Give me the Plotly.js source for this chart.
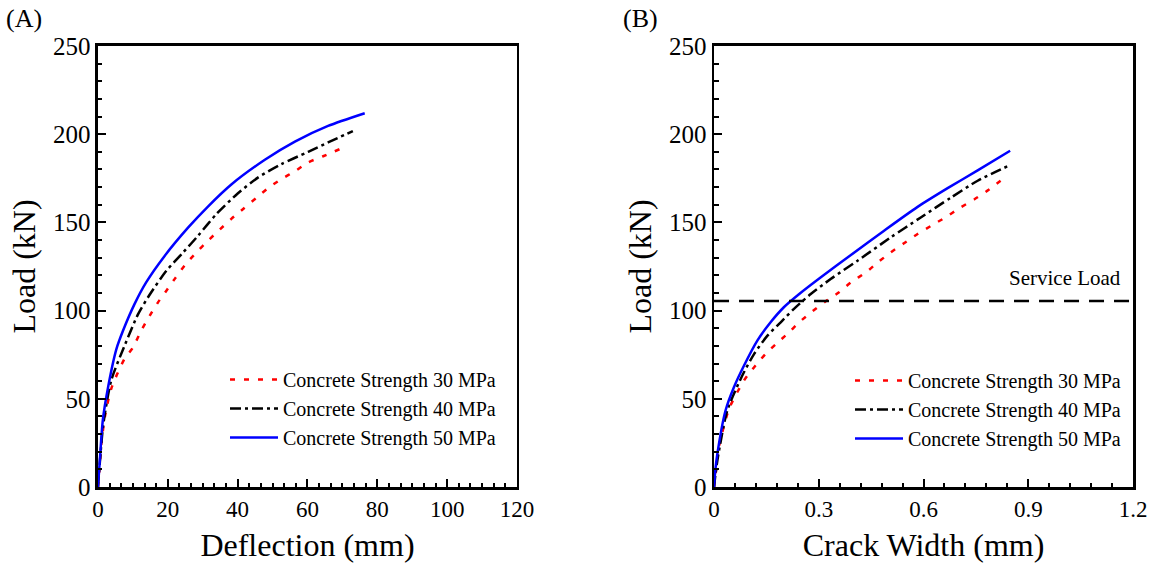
<!DOCTYPE html>
<html>
<head>
<meta charset="utf-8">
<script src="https://cdn.plot.ly/plotly-3.0.1.min.js"></script>
<style>html,body{margin:0;padding:0;background:#fff;}#chart{width:1155px;height:565px;}</style>
</head>
<body>
<div id="chart"></div>
<script>
// ---- Data: panel (A) load vs deflection ----
const seriesNames = ["Concrete Strength 30 MPa", "Concrete Strength 40 MPa", "Concrete Strength 50 MPa"];

const defl30 = [0, 0.5, 1, 2, 3.8, 7.6, 10, 12.4, 14.8, 17.2, 19.6, 22, 24.8, 28.2, 31.5, 34.9, 38.2, 41.5, 45.4, 48.7, 52.5, 56.4, 60.2, 64.5, 69.2];
const load30 = [0, 12, 25, 40, 55.7, 72.6, 79, 88.7, 97, 104.7, 111.3, 118, 125.5, 133, 139.6, 146, 152, 157.5, 164, 169.4, 174.5, 179, 184, 187.5, 191.5];

const defl40 = [0, 0.5, 1.5, 3.8, 7.6, 11.5, 14.8, 19.6, 24.4, 28.7, 33.9, 40.1, 45.8, 52.5, 60.2, 65.9, 73.0];
const load40 = [0, 13, 35, 60.4, 80, 98, 109, 122.6, 133, 142.5, 154.7, 166.5, 175.4, 183, 190, 195.3, 201.8];

const defl50 = [0, 0.5, 1.4, 2.9, 5.3, 7.2, 10.5, 13.8, 19.1, 25.8, 31.5, 38.2, 47.8, 56.4, 65.9, 76.4];
const load50 = [0, 14, 38, 56.6, 78.3, 88.7, 103.8, 116, 131, 147, 159, 171.5, 185.5, 195.8, 204.7, 211.9];

// ---- Data: panel (B) load vs crack width ----
const cw30 = [0, 0.005, 0.014, 0.043, 0.086, 0.119, 0.148, 0.177, 0.21, 0.244, 0.282, 0.32, 0.358, 0.392, 0.435, 0.47, 0.506, 0.544, 0.583, 0.621, 0.664, 0.702, 0.745, 0.783, 0.83];
const cl30 = [0, 8, 22.6, 44.3, 60.4, 68.9, 75.5, 81, 86.8, 93.4, 99.6, 105.3, 110.4, 116, 121.7, 127.5, 133, 138.2, 143.4, 148, 153, 158, 163, 168, 175];

const cw40 = [0, 0.004, 0.012, 0.038, 0.081, 0.115, 0.153, 0.191, 0.229, 0.277, 0.334, 0.411, 0.506, 0.592, 0.678, 0.755, 0.848];
const cl40 = [0, 7, 18, 43.4, 63.2, 75.5, 85.8, 93.4, 101, 109.4, 117.9, 128.3, 141.5, 152.8, 164, 173.6, 182.5];

const cw50 = [0, 0.003, 0.0096, 0.033, 0.057, 0.086, 0.124, 0.162, 0.2, 0.244, 0.306, 0.392, 0.487, 0.583, 0.669, 0.755, 0.848];
const cl50 = [0, 8, 18.9, 43.4, 56.6, 68.9, 83, 93.4, 101.9, 109.4, 118.9, 131.5, 145.3, 158.8, 169.4, 179.5, 190.6];

const serviceX = [0, 1.2];
const serviceY = [105.5, 105.5];
const serviceLabel = "Service Load";

const xTicksA = [0, 20, 40, 60, 80, 100, 120];
const xTicksB = [0, 0.3, 0.6, 0.9, 1.2];
const xTickTextB = ["0", "0.3", "0.6", "0.9", "1.2"];
const yTicks = [0, 50, 100, 150, 200, 250];

// ---- Styles ----
const FONT = "Liberation Serif, Times New Roman, serif";
const styles = [
  {color: "#ff0000", width: 2.5, dash: "5px,9px", shape: "spline", smoothing: 0.7},
  {color: "#000000", width: 2.5, dash: "11px,4px,3px,4px", shape: "spline", smoothing: 0.7},
  {color: "#0000ff", width: 2.5, dash: "solid", shape: "spline", smoothing: 0.7}
];

const traces = [];
[[defl30, load30], [defl40, load40], [defl50, load50]].forEach((d, i) => {
  traces.push({x: d[0], y: d[1], type: "scatter", mode: "lines", name: seriesNames[i],
    line: styles[i], xaxis: "x", yaxis: "y", legend: "legend"});
});
[[cw30, cl30], [cw40, cl40], [cw50, cl50]].forEach((d, i) => {
  traces.push({x: d[0], y: d[1], type: "scatter", mode: "lines", name: seriesNames[i],
    line: styles[i], xaxis: "x2", yaxis: "y2", legend: "legend2"});
});
traces.push({x: serviceX, y: serviceY, type: "scatter", mode: "lines", showlegend: false,
  line: {color: "#000", width: 2.5, dash: "15px,10px"}, xaxis: "x2", yaxis: "y2", hoverinfo: "skip"});

function xAxis(domain, range, tickvals, ticktext, minorDtick, title, anchor) {
  return {
    domain: domain, range: range, tickmode: "array", tickvals: tickvals, ticktext: ticktext,
    ticks: "inside", ticklen: 8, tickwidth: 2, tickcolor: "#000",
    showline: true, linewidth: 2.5, linecolor: "#000", mirror: true,
    showgrid: false, zeroline: false, anchor: anchor,
    minor: {tick0: 0, dtick: minorDtick, ticks: "inside", ticklen: 4.5, tickwidth: 2, tickcolor: "#000", showgrid: false},
    tickfont: {family: FONT, size: 23, color: "#000"},
    title: {text: title, font: {family: FONT, size: 32, color: "#000"}, standoff: 13},
    automargin: false, fixedrange: true
  };
}
function yAxis(anchor) {
  return {
    domain: [0.138, 0.9186], range: [0, 250], tickmode: "array", tickvals: yTicks,
    ticks: "inside", ticklen: 8, tickwidth: 2, tickcolor: "#000",
    showline: true, linewidth: 2.5, linecolor: "#000", mirror: true,
    showgrid: false, zeroline: false, anchor: anchor,
    minor: {tick0: 0, dtick: 10, ticks: "inside", ticklen: 4.5, tickwidth: 2, tickcolor: "#000", showgrid: false},
    tickfont: {family: FONT, size: 25, color: "#000"},
    title: {text: "Load (kN)", font: {family: FONT, size: 32, color: "#000"}, standoff: 8},
    automargin: false, fixedrange: true
  };
}

const legendBase = {
  xanchor: "left", yanchor: "top", bgcolor: "rgba(0,0,0,0)", borderwidth: 0,
  font: {family: FONT, size: 20, color: "#000"}, itemwidth: 48, traceorder: "normal", tracegroupgap: 0
};

const layout = {
  width: 1155, height: 565,
  margin: {l: 0, r: 0, t: 0, b: 0},
  paper_bgcolor: "#fff", plot_bgcolor: "#fff",
  showlegend: true,
  font: {family: FONT, color: "#000"},
  xaxis: xAxis([0.0848, 0.4476], [0, 120], xTicksA, xTicksA.map(String), 20 / 6, "Deflection (mm)", "y"),
  yaxis: yAxis("x"),
  xaxis2: xAxis([0.6182, 0.981], [0, 1.2], xTicksB, xTickTextB, 0.06, "Crack Width (mm)", "y2"),
  yaxis2: yAxis("x2"),
  legend: Object.assign({x: 225 / 1155, y: (565 - 360) / 565}, legendBase),
  legend2: Object.assign({x: 850 / 1155, y: (565 - 361) / 565}, legendBase),
  annotations: [
    {text: "(A)", xref: "paper", yref: "paper", x: 4 / 1155, y: 1 - 18 / 565, xanchor: "left", yanchor: "middle",
     showarrow: false, font: {family: FONT, size: 26, color: "#000"}},
    {text: "(B)", xref: "paper", yref: "paper", x: 621 / 1155, y: 1 - 18 / 565, xanchor: "left", yanchor: "middle",
     showarrow: false, font: {family: FONT, size: 26, color: "#000"}},
    {text: serviceLabel, xref: "x2", yref: "y2", x: 1.17, y: 118.5, xanchor: "right", yanchor: "middle",
     showarrow: false, font: {family: FONT, size: 21, color: "#000"}}
  ]
};

Plotly.newPlot("chart", traces, layout, {staticPlot: true, displayModeBar: false});
</script>
</body>
</html>
